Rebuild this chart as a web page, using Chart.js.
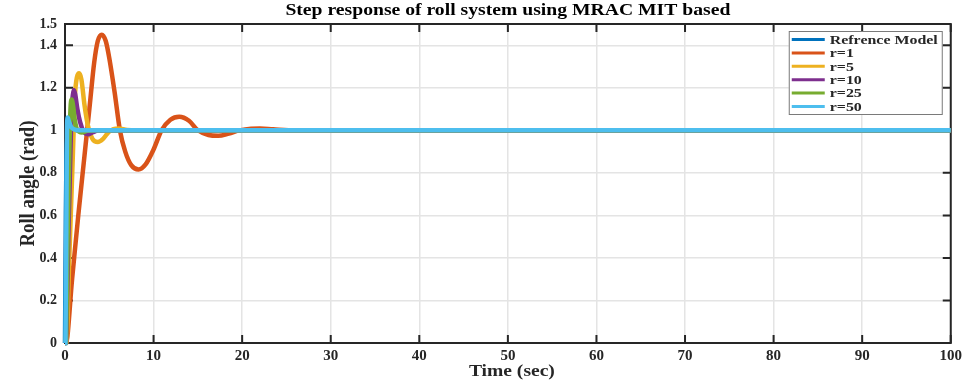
<!DOCTYPE html>
<html>
<head>
<meta charset="utf-8">
<script src="https://cdn.jsdelivr.net/npm/chart.js@4"></script>
<style>
  html, body { margin: 0; padding: 0; background: #fff; }
  #wrap { width: 966px; height: 381px; }
</style>
</head>
<body>
<div id="wrap"><canvas id="rollChart" width="966" height="381"></canvas></div>
<script>
// step responses, time (sec) / roll angle (rad)
const refT = [0, 0.04, 0.1, 0.16, 0.25, 0.4, 0.6, 1, 100];
const refY = [0, 0.25, 0.62, 0.85, 0.96, 0.995, 1.0, 1.0, 1.0];

const r1T = [0, 0.1, 0.8, 1.5, 2.2, 2.8, 3.3, 3.7, 4.15, 4.6, 5.0, 5.6, 6.2, 6.8, 7.5, 8.3, 9.1, 10, 10.9,
             11.9, 12.9, 14, 15, 16.2, 17.3, 18.5, 19.7, 21, 22, 23.5, 26, 30, 100];
const r1Y = [0, 0, 0.3, 0.6, 0.88, 1.12, 1.32, 1.42, 1.45, 1.42, 1.34, 1.18, 1.0, 0.9, 0.835, 0.816, 0.84, 0.91, 1.0,
             1.05, 1.064, 1.045, 1.0, 0.978, 0.974, 0.985, 1.0, 1.008, 1.009, 1.005, 1.0, 1.0, 1.0];

const r5T = [0, 0.15, 0.5, 0.9, 1.1, 1.35, 1.6, 1.85, 2.2, 2.6, 3.1, 3.7, 4.3, 5.0, 6.0, 7.0, 8.0, 100];
const r5Y = [0, 0, 0.42, 0.9, 1.15, 1.25, 1.268, 1.24, 1.12, 1.02, 0.96, 0.945, 0.96, 0.995, 1.009, 1.002, 1.0, 1.0];

const r10T = [0, 0.1, 0.35, 0.6, 0.75, 0.9, 1.0, 1.15, 1.4, 1.7, 2.1, 2.6, 3.1, 3.8, 100];
const r10Y = [0, 0, 0.45, 0.88, 1.1, 1.17, 1.19, 1.17, 1.1, 1.04, 0.995, 0.982, 0.99, 1.0, 1.0];

const r25T = [0, 0.08, 0.3, 0.5, 0.62, 0.75, 0.9, 1.1, 1.4, 1.9, 2.5, 3.5, 100];
const r25Y = [0, 0, 0.5, 0.92, 1.1, 1.145, 1.12, 1.05, 1.0, 0.99, 0.998, 1.0, 1.0];

const r50T = [0, 0.05, 0.15, 0.22, 0.3, 0.45, 0.7, 1.0, 1.5, 100];
const r50Y = [0, 0, 0.55, 0.98, 1.06, 1.04, 1.015, 1.005, 1.0, 1.0];

const seriesLabels = ['Refrence Model', 'r=1', 'r=5', 'r=10', 'r=25', 'r=50'];
const seriesColors = ['#0072BD', '#D95319', '#EDB120', '#7E2F8E', '#77AC30', '#4DBEEE'];

const xTicks = [0, 10, 20, 30, 40, 50, 60, 70, 80, 90, 100];
const yTicks = [0, 0.2, 0.4, 0.6, 0.8, 1, 1.2, 1.4, 1.5];

const FONT = '"Liberation Serif", "Times New Roman", serif';
const INK = '#262626';

function toPoints(t, v) {
  return t.map((x, i) => ({ x: x, y: v[i] }));
}

// draws text squeezed/stretched to a given width
function fitText(ctx, text, x, y, width) {
  const w = ctx.measureText(text).width;
  ctx.save();
  ctx.translate(x, y);
  ctx.scale(width / w, 1);
  ctx.fillText(text, 0, 0);
  ctx.restore();
}

const series = [
  [refT, refY], [r1T, r1Y], [r5T, r5Y], [r10T, r10Y], [r25T, r25Y], [r50T, r50Y]
];

const datasets = series.map((s, i) => ({
  label: seriesLabels[i],
  data: toPoints(s[0], s[1]),
  borderColor: seriesColors[i],
  backgroundColor: seriesColors[i],
  borderWidth: 4.5,
  pointRadius: 0,
  cubicInterpolationMode: 'monotone',
  clip: 8,
  order: series.length - i   // last series ends up on top
}));

// box, inward tick marks
const axesBox = {
  id: 'axesBox',
  beforeDatasetsDraw(chart) {
    const { ctx, chartArea: a, scales: { x, y } } = chart;
    ctx.save();
    ctx.strokeStyle = INK;
    ctx.lineWidth = 2;
    ctx.beginPath();
    xTicks.forEach(v => {
      const px = x.getPixelForValue(v);
      ctx.moveTo(px, a.bottom); ctx.lineTo(px, a.bottom - 8);
      ctx.moveTo(px, a.top); ctx.lineTo(px, a.top + 8);
    });
    yTicks.forEach(v => {
      const py = y.getPixelForValue(v);
      ctx.moveTo(a.left, py); ctx.lineTo(a.left + 8, py);
      ctx.moveTo(a.right, py); ctx.lineTo(a.right - 8, py);
    });
    ctx.stroke();
    ctx.strokeRect(a.left, a.top, a.right - a.left, a.bottom - a.top);
    ctx.restore();
  }
};

// title, axis names
const labelsPlugin = {
  id: 'labelsPlugin',
  afterDraw(chart) {
    const { ctx, chartArea: a } = chart;
    const cx = (a.left + a.right) / 2;
    ctx.save();
    ctx.fillStyle = '#000';
    ctx.textAlign = 'center';
    ctx.textBaseline = 'middle';

    ctx.font = 'bold 16px ' + FONT;
    fitText(ctx, 'Step response of roll system using MRAC MIT based', cx, 11, 445);

    ctx.fillStyle = INK;
    ctx.font = 'bold 16px ' + FONT;
    fitText(ctx, 'Time (sec)', cx + 4, 372, 86);

    ctx.save();
    ctx.translate(29, (a.top + a.bottom) / 2);
    ctx.rotate(-Math.PI / 2);
    ctx.font = 'bold 21px ' + FONT;
    fitText(ctx, 'Roll angle (rad)', 0, 0, 126);
    ctx.restore();
    ctx.restore();
  }
};

// legend box inside the plot, top right
const legendBox = {
  id: 'legendBox',
  afterDatasetsDraw(chart) {
    const { ctx, chartArea: a } = chart;
    const w = 153, h = 83, rowH = 13.4;
    const left = a.right - 9 - w;
    const top = a.top + 7;
    ctx.save();
    ctx.fillStyle = '#fff';
    ctx.fillRect(left, top, w, h);
    ctx.strokeStyle = '#7a7a7a';
    ctx.lineWidth = 1;
    ctx.strokeRect(left + 0.5, top + 0.5, w, h);

    ctx.font = 'bold 13px ' + FONT;
    ctx.textAlign = 'left';
    ctx.textBaseline = 'middle';
    const k = 108 / ctx.measureText(seriesLabels[0]).width;
    seriesLabels.forEach((lab, i) => {
      const yy = top + 8.5 + i * rowH;
      ctx.strokeStyle = seriesColors[i];
      ctx.lineWidth = 3;
      ctx.beginPath();
      ctx.moveTo(left + 3, yy);
      ctx.lineTo(left + 36, yy);
      ctx.stroke();
      ctx.fillStyle = INK;
      ctx.save();
      ctx.translate(left + 41, yy + 1);
      ctx.scale(k, 1);
      ctx.fillText(lab, 0, 0);
      ctx.restore();
    });
    ctx.restore();
  }
};

const ctx = document.getElementById('rollChart').getContext('2d');
const chart = new Chart(ctx, {
  type: 'line',
  data: { datasets: datasets },
  options: {
    responsive: false,
    animation: false,
    layout: { padding: { left: 0, right: 14, top: 24, bottom: 0 } },
    plugins: {
      legend: { display: false },
      tooltip: { enabled: false }
    },
    scales: {
      x: {
        type: 'linear',
        min: 0,
        max: 100,
        afterBuildTicks: s => { s.ticks = xTicks.map(v => ({ value: v })); },
        afterFit: s => { s.height = 38; },
        border: { display: false },
        grid: { color: '#e4e4e4', lineWidth: 1.5, drawTicks: false },
        ticks: {
          padding: 4,
          color: INK,
          font: { family: FONT, size: 15, weight: 'bold' },
          maxRotation: 0
        }
      },
      y: {
        type: 'linear',
        min: 0,
        max: 1.5,
        afterBuildTicks: s => { s.ticks = yTicks.map(v => ({ value: v })); },
        afterFit: s => { s.width = 65; },
        border: { display: false },
        grid: { color: '#e4e4e4', lineWidth: 1.5, drawTicks: false },
        ticks: {
          padding: 8,
          color: INK,
          font: { family: FONT, size: 14, weight: 'bold' },
          callback: v => String(+v.toFixed(1))
        }
      }
    }
  },
  plugins: [axesBox, legendBox, labelsPlugin]
});
</script>
</body>
</html>
